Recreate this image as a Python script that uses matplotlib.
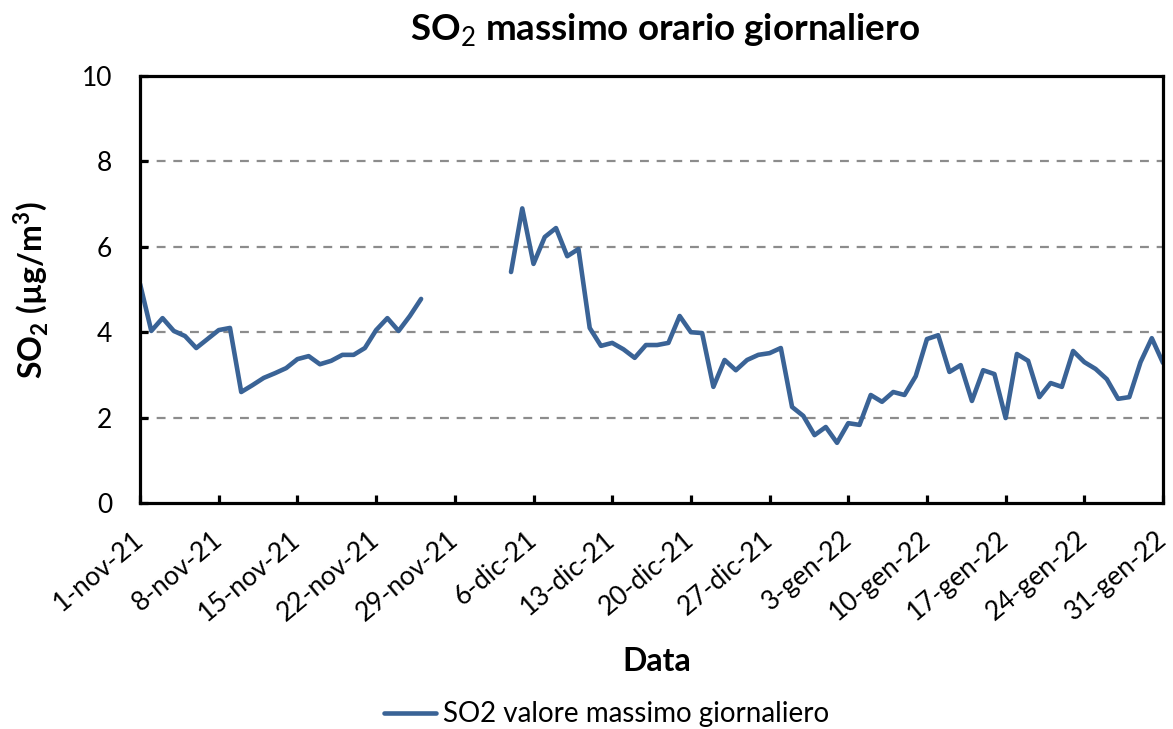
import matplotlib
matplotlib.use("Agg")
import matplotlib.pyplot as plt
import numpy as np
import pandas as pd

plt.rcParams['font.family'] = ['Lato', 'DejaVu Sans']
plt.rcParams['mathtext.fontset'] = 'custom'
plt.rcParams['mathtext.rm'] = 'Lato'
plt.rcParams['mathtext.bf'] = 'Lato:bold'

start_date = "2021-11-01"
end_date = "2022-01-31"
so2_values = [
    5.13, 4.03, 4.33, 4.03, 3.91, 3.63, 3.84, 4.05, 4.10, 2.60,
    2.76, 2.93, 3.04, 3.16, 3.37, 3.44, 3.25, 3.33, 3.47, 3.47,
    3.63, 4.05, 4.33, 4.03, 4.38, 4.78,
    None, None, None, None, None, None, None,
    5.41, 6.90, 5.60, 6.23, 6.44, 5.78, 5.95, 4.10, 3.68, 3.75,
    3.60, 3.40, 3.70, 3.70, 3.75, 4.38, 4.00, 3.98, 2.72, 3.35,
    3.11, 3.35, 3.47, 3.51, 3.63, 2.25, 2.04, 1.59, 1.78, 1.41,
    1.87, 1.83, 2.53, 2.37, 2.60, 2.53, 2.97, 3.84, 3.93, 3.07,
    3.23, 2.39, 3.11, 3.02, 1.99, 3.49, 3.33, 2.48, 2.81, 2.72,
    3.56, 3.30, 3.14, 2.90, 2.44, 2.48, 3.30, 3.86, 3.28,
]
tick_labels = ["1-nov-21", "8-nov-21", "15-nov-21", "22-nov-21", "29-nov-21",
               "6-dic-21", "13-dic-21", "20-dic-21", "27-dic-21", "3-gen-22",
               "10-gen-22", "17-gen-22", "24-gen-22", "31-gen-22"]
y_ticks = [0, 2, 4, 6, 8, 10]
series_name = "SO2 valore massimo giornaliero"

dates = pd.date_range(start_date, end_date, freq="D")
vals = np.array([np.nan if v is None else v for v in so2_values], dtype=float)
tick_dates = pd.date_range(start_date, end_date, freq="7D")

fig = plt.figure(figsize=(11.73, 7.29), dpi=100)
ax = fig.add_axes([0.1194, 0.31, 0.9915 - 0.1194, 0.8957 - 0.31])

line_color = '#3A6396'
ax.plot(dates, vals, color=line_color, linewidth=3.3, label=series_name,
        solid_joinstyle='round', solid_capstyle='round')

ax.set_xlim(dates[0], dates[-1])
ax.set_ylim(0, 10)
ax.set_yticks(y_ticks)
ax.set_yticklabels([str(t) for t in y_ticks], fontsize=19)
ax.set_xticks(tick_dates)
ax.set_xticklabels(tick_labels, rotation=40, ha='right', va='center',
                   rotation_mode='anchor', fontsize=19)

for g in [2, 4, 6, 8]:
    ax.axhline(g, color='#8c8c8c', linestyle=(0, (4, 3.5)), linewidth=1.6, zorder=0)

for s in ax.spines.values():
    s.set_linewidth(2.3)
    s.set_color('black')
ax.tick_params(axis='both', direction='in', length=6, width=2.3)
ax.tick_params(axis='x', pad=24)
ax.tick_params(axis='y', pad=20)

fig.text(0.567, 0.958, "SO$_2$ massimo orario giornaliero", fontsize=26.5,
         fontweight='bold', ha='center', va='center')
fig.text(0.026, 0.602, "SO$_\\mathbf{2}$ (µg/m$^\\mathbf{3}$)", fontsize=23, fontweight='bold',
         rotation=90, ha='center', va='center')
fig.text(0.56, 0.093, "Data", fontsize=23, fontweight='bold', ha='center', va='center')

leg = fig.legend(loc='center', bbox_to_anchor=(0.517, 0.02), frameon=False,
                 fontsize=20, handlelength=1.9, handletextpad=0.25)

fig.savefig("out.png", dpi=100)
